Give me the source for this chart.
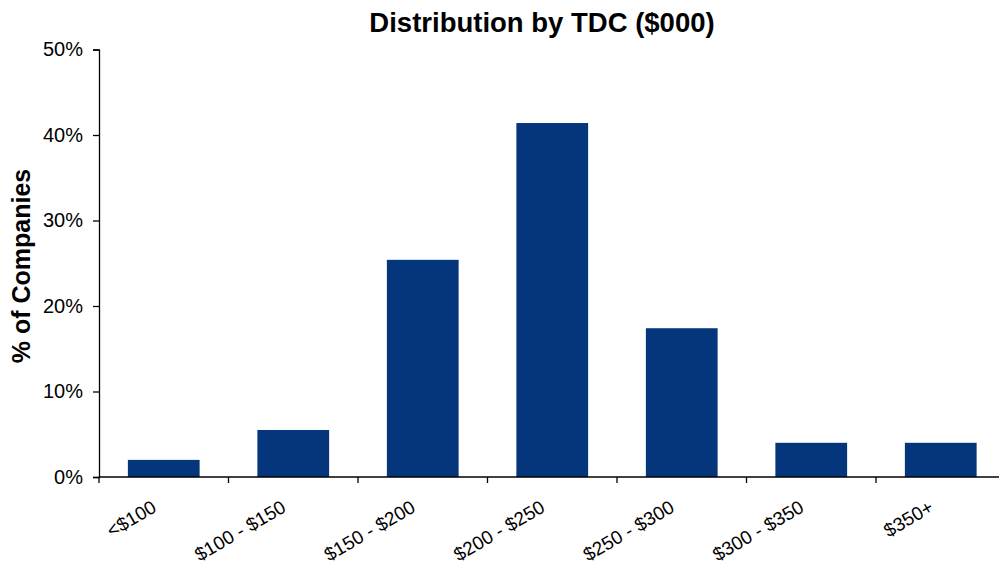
<!DOCTYPE html>
<html>
<head>
<meta charset="utf-8">
<script src="https://cdn.jsdelivr.net/npm/d3@7"></script>
<style>
  body { margin: 0; background: #fff; }
  svg { display: block; font-family: "Liberation Sans", Arial, sans-serif; }
</style>
</head>
<body>
<div id="chart"></div>
<script>
const categories = ["<$100", "$100 - $150", "$150 - $200", "$200 - $250", "$250 - $300", "$300 - $350", "$350+"];
const shares = [2.0, 5.5, 25.4, 41.4, 17.4, 4.0, 4.0];
const yTicks = [0, 10, 20, 30, 40, 50];

const width = 999;
const height = 565;
const margin = { top: 49.5, right: -6.5, bottom: 88, left: 99 };

const svg = d3
  .select("#chart")
  .append("svg")
  .attr("width", width)
  .attr("height", height);

const x = d3
  .scaleBand()
  .domain(categories)
  .range([margin.left, width - margin.right])
  .paddingInner(0.446)
  .paddingOuter(0.223);

const y = d3
  .scaleLinear()
  .domain([0, 50])
  .range([height - margin.bottom, margin.top]);

const baseY = y(0);

// bars
svg
  .append("g")
  .selectAll("rect")
  .data(shares)
  .enter()
  .append("rect")
  .attr("x", (d, i) => x(categories[i]))
  .attr("y", (d) => y(d))
  .attr("width", x.bandwidth())
  .attr("height", (d) => baseY - y(d))
  .attr("fill", "#05357a");

// y axis
const yAxisGroup = svg
  .append("g")
  .attr("transform", `translate(${margin.left}, 0)`)
  .call(
    d3
      .axisLeft(y)
      .tickValues(yTicks)
      .tickSize(6)
      .tickPadding(10)
      .tickFormat((d) => d + "%")
  );
yAxisGroup.select(".domain").attr("stroke", "#000").attr("stroke-width", 1.3);
yAxisGroup.selectAll(".tick line").attr("stroke", "#000").attr("stroke-width", 1.3);
yAxisGroup
  .selectAll(".tick text")
  .attr("fill", "#000")
  .style("font-size", "20px")
  .style("font-family", "'Liberation Sans', Arial, sans-serif");

// x axis: line + boundary ticks
const step = x.step();
const bounds = categories.map((c) => x(c) - step * 0.223);
const xAxisGroup = svg.append("g");
xAxisGroup
  .append("line")
  .attr("x1", margin.left)
  .attr("x2", width - margin.right)
  .attr("y1", baseY)
  .attr("y2", baseY)
  .attr("stroke", "#000")
  .attr("stroke-width", 1.3);
xAxisGroup
  .selectAll(".xtick")
  .data(bounds)
  .enter()
  .append("line")
  .attr("x1", (d) => d)
  .attr("x2", (d) => d)
  .attr("y1", baseY)
  .attr("y2", baseY + 6)
  .attr("stroke", "#000")
  .attr("stroke-width", 1.3);

xAxisGroup
  .selectAll(".xlabel")
  .data(categories)
  .enter()
  .append("text")
  .attr(
    "transform",
    (d) => `translate(${x(d) + x.bandwidth() / 2 - 6}, ${baseY + 34}) rotate(-30)`
  )
  .attr("text-anchor", "end")
  .attr("fill", "#000")
  .style("font-size", "19px")
  .text((d) => d);

// title
svg
  .append("text")
  .attr("x", 542)
  .attr("y", 32)
  .attr("text-anchor", "middle")
  .style("font-size", "27.5px")
  .style("font-weight", "bold")
  .text("Distribution by TDC ($000)");

// y label
svg
  .append("text")
  .attr("transform", `translate(30, 266) rotate(-90)`)
  .attr("text-anchor", "middle")
  .style("font-size", "25px")
  .style("font-weight", "bold")
  .text("% of Companies");
</script>
</body>
</html>
